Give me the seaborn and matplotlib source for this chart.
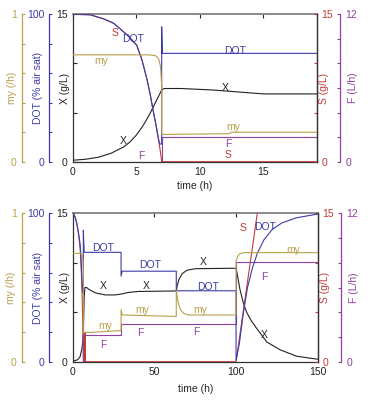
import matplotlib
matplotlib.use('Agg')
import matplotlib.pyplot as plt
import seaborn as sns

sns.set_style('white')
plt.rcParams['font.family'] = ['Liberation Sans', 'DejaVu Sans']
plt.rcParams['font.size'] = 7.5

# colours
c_my = '#b8a048'
c_dot = '#3c3ca8'
c_x = '#222222'
c_s = '#c03c34'
c_f = '#9040a0'

# ---- top panel: batch then switch at t = 7 h ----
t_x_top = [0, 1, 2, 3, 4, 4.5, 5, 5.5, 6, 6.5, 7.0, 7.2, 8.5, 11, 13, 15, 19.2]
x_top = [0.15, 0.25, 0.45, 0.85, 1.5, 2.0, 2.7, 3.6, 4.7, 6.0, 7.3, 7.45, 7.45, 7.3, 7.1, 6.9, 6.9]

t_s_top = [0, 1.36, 2.41, 3.2, 3.72, 4.4, 5.04, 5.45, 5.83, 6.1, 6.35, 6.55, 6.74, 6.9, 7.0, 19.2]
s_top = [15, 14.95, 14.55, 14.1, 13.55, 12.75, 11.85, 10.35, 8.45, 6.85, 5.05, 3.75, 2.35, 1.0, 0, 0]

t_dot_top = [0, 1.36, 2.41, 3.2, 3.72, 4.4, 5.04, 5.45, 5.83, 6.1, 6.35, 6.55, 6.74, 6.85, 7.0, 7.0, 7.05, 19.2]
dot_top = [100, 99.7, 97, 94, 90.2, 85, 79, 69, 56.3, 45.5, 33.7, 25, 15.6, 12, 12, 91.5, 73.5, 73.5]

t_my_top = [0, 6.0, 6.5, 6.75, 6.9, 7.0, 7.0, 7.2, 12.3, 12.5, 19.2]
my_top = [0.725, 0.725, 0.72, 0.70, 0.65, 0.52, 0.19, 0.185, 0.19, 0.2, 0.2]

t_f_top = [0, 7.0, 7.0, 19.2]
f_top = [0, 0, 2.04, 2.04]

# ---- bottom panel: feed steps ----
t_x_bot = [0, 3, 4.5, 5.5, 6.2, 6.6, 7.0, 7.5, 8.5, 10, 14, 20, 26, 30, 34, 40, 63.4, 64, 65, 67, 70, 75,
           100, 101, 102.4, 104.5, 106.5, 109.5, 112.7, 118.8, 127, 137.2, 150]
x_bot = [0.05, 0.2, 0.5, 1.2, 2.0, 3.5, 6.5, 7.5, 7.5, 7.3, 6.95, 6.75, 6.75, 6.85, 7.0, 7.1, 7.15, 7.7, 8.3, 8.9, 9.25, 9.4,
         9.45, 8.6, 7.3, 5.9, 5.0, 4.1, 3.35, 2.0, 1.2, 0.55, 0.25]

t_s_bot = [0, 1.5, 2.5, 3.5, 4.5, 5.2, 5.8, 6.2, 6.5, 7.4, 7.5, 7.7, 100, 113, 150]
s_bot = [15, 14.6, 14.0, 13.0, 11.5, 9.5, 6.5, 3.5, 0, 0, 3.0, 0, 0, 15, 57.7]

t_dot_bot = [0, 0.4, 1.5, 2.45, 3.5, 4.47, 5.0, 5.5, 6.0, 6.5, 6.5, 7.0, 29.6, 29.6, 30.3, 63.4, 63.4,
             100, 100, 102, 104.5, 107, 110, 113, 117, 122, 128, 137, 150]
dot_bot = [100, 100, 97.5, 93.3, 87, 79.8, 72, 57.3, 48, 46, 88.6, 73.7, 73.7, 57.7, 61, 61, 47.8,
           47.8, 1, 12, 33, 50, 63, 73, 82, 89, 93.5, 97, 99.5]

t_my_bot = [0, 5.0, 5.8, 6.3, 6.5, 6.5, 7.0, 29.6, 29.6, 30.3, 63.4, 63.4, 64.5, 66, 68, 71,
            100, 100, 101, 102, 104.5, 150]
my_bot = [0.73, 0.73, 0.72, 0.68, 0.6, 0.19, 0.195, 0.21, 0.35, 0.315, 0.305, 0.48, 0.40, 0.35, 0.325, 0.315,
          0.315, 0.68, 0.71, 0.725, 0.735, 0.735]

t_f_bot = [0, 6.5, 6.5, 29.6, 29.6, 100, 100, 150]
f_bot = [0, 0, 2.16, 2.16, 3.05, 3.05, 8.05, 8.05]


def line(ax, t, v, color):
    sns.lineplot(x=t, y=v, ax=ax, color=color, lw=0.8, estimator=None, sort=False)
    ax.set_ylabel('')


def side_axis(ax, side, pos, ymax, ticks, labels, color, label, label_x):
    tw = ax.twinx()
    for sp in tw.spines.values():
        sp.set_visible(False)
    tw.spines[side].set_visible(True)
    tw.spines[side].set_position(('axes', pos))
    tw.spines[side].set_color(color)
    tw.spines[side].set_linewidth(0.9)
    if side == 'left':
        tw.yaxis.tick_left()
    else:
        tw.yaxis.tick_right()
    tw.set_ylim(0, ymax)
    tw.set_yticks(ticks)
    tw.set_yticklabels(labels)
    tw.tick_params(axis='y', direction='in', length=2.5, width=0.8, colors=color, pad=3.5, labelsize=7.5)
    ax.text(label_x, 0.5, label, transform=ax.transAxes, rotation=90, ha='center', va='center',
            color=color, fontsize=7.5)
    return tw


def make_panel(rect, xmax, xticks, pad):
    ax = fig.add_axes(rect)
    ax.set_xlim(0, xmax)
    ax.set_ylim(0, 15)
    ax.set_xticks(xticks)
    ax.set_xticklabels([str(x) for x in xticks])
    ax.set_yticks([0, 5, 10, 15])
    ax.set_yticklabels(['0', '', '', '15'])
    ax.tick_params(direction='in', length=3, width=0.8, top=True, labelsize=7.5, colors='#222222', pad=3.5)
    ax.tick_params(axis='y', right=False)
    for sp in ax.spines.values():
        sp.set_linewidth(0.9)
        sp.set_color('#333333')
    ax.spines['top'].set_color('#8a8a8a')
    ax.spines['top'].set_linewidth(1.4)
    ax.set_xlabel('time (h)', labelpad=pad, fontsize=7.5)
    ax.text(-0.032, 0.5, 'X (g/L)', transform=ax.transAxes, rotation=90, ha='center', va='center',
            color=c_x, fontsize=7.5)

    ax_s = side_axis(ax, 'right', 1.0, 15, [0, 5, 10, 15], ['0', '', '', '15'], c_s, 'S (g/L)', 1.03)
    ax_s.spines['right'].set_color('#333333')
    ax_f = side_axis(ax, 'right', 1.097, 12, [0, 2, 4, 6, 8, 10, 12], ['0', '', '', '', '', '', '12'],
                     c_f, 'F (L/h)', 1.149)
    ax_dot = side_axis(ax, 'left', -0.097, 100, [0, 20, 40, 60, 80, 100], ['0', '', '', '', '', '100'],
                       c_dot, 'DOT (% air sat)', -0.143)
    ax_my = side_axis(ax, 'left', -0.209, 1, [0, 0.2, 0.4, 0.6, 0.8, 1], ['0', '', '', '', '', '1'],
                      c_my, 'my (/h)', -0.25)
    for a in (ax_s, ax_f, ax_dot, ax_my):
        a.set_xlim(0, xmax)
    return ax, ax_s, ax_f, ax_dot, ax_my


fig = plt.figure(figsize=(3.76, 4.05), dpi=100)

# top panel
ax, ax_s, ax_f, ax_dot, ax_my = make_panel([0.1934, 0.6007, 0.649, 0.364], 19.2, [0, 5, 10, 15], 3.5)
line(ax, t_x_top, x_top, c_x)
line(ax_s, t_s_top, s_top, c_s)
line(ax_f, t_f_top, f_top, c_f)
line(ax_dot, t_dot_top, dot_top, c_dot)
line(ax_my, t_my_top, my_top, c_my)
ax_s.set_ylim(0, 15)

top_labels = [
    (3.34, 13.13, 'S', c_s), (4.77, 12.49, 'DOT', c_dot), (2.28, 10.25, 'my', c_my),
    (3.98, 2.14, 'X', c_x), (5.43, 0.58, 'F', c_f), (12.78, 11.3, 'DOT', c_dot),
    (11.99, 7.53, 'X', c_x), (12.6, 3.56, 'my', c_my), (12.25, 1.8, 'F', c_f), (12.25, 0.65, 'S', c_s),
]
for tx, ty, s, c in top_labels:
    ax_my.text(tx, ty / 15, s, color=c, transform=ax.get_xaxis_transform(), ha='center', va='center', fontsize=7.5)

# bottom panel
bx, bx_s, bx_f, bx_dot, bx_my = make_panel([0.1934, 0.1069, 0.6516, 0.3664], 150, [0, 50, 100, 150], 5.5)
line(bx, t_x_bot, x_bot, c_x)
line(bx_s, t_s_bot, s_bot, c_s)
line(bx_f, t_f_bot, f_bot, c_f)
line(bx_dot, t_dot_bot, dot_bot, c_dot)
line(bx_my, t_my_bot, my_bot, c_my)
bx_s.set_ylim(0, 15)

bot_labels = [
    (18.7, 11.46, 'DOT', c_dot), (47.3, 9.77, 'DOT', c_dot), (18.4, 7.65, 'X', c_x), (44.7, 7.65, 'X', c_x),
    (42.6, 5.23, 'my', c_my), (19.8, 3.61, 'my', c_my), (41.2, 2.93, 'F', c_f), (18.7, 1.69, 'F', c_f),
    (80.0, 10.11, 'X', c_x), (83.0, 7.52, 'DOT', c_dot), (77.9, 5.23, 'my', c_my), (75.9, 2.97, 'F', c_f),
    (104.1, 13.48, 'S', c_s), (117.7, 13.65, 'DOT', c_dot), (135.1, 11.29, 'my', c_my),
    (117.1, 8.59, 'F', c_f), (117.1, 2.7, 'X', c_x),
]
for tx, ty, s, c in bot_labels:
    bx_my.text(tx, ty / 15, s, color=c, transform=bx.get_xaxis_transform(), ha='center', va='center', fontsize=7.5)

fig.savefig('out.png', dpi=100)
